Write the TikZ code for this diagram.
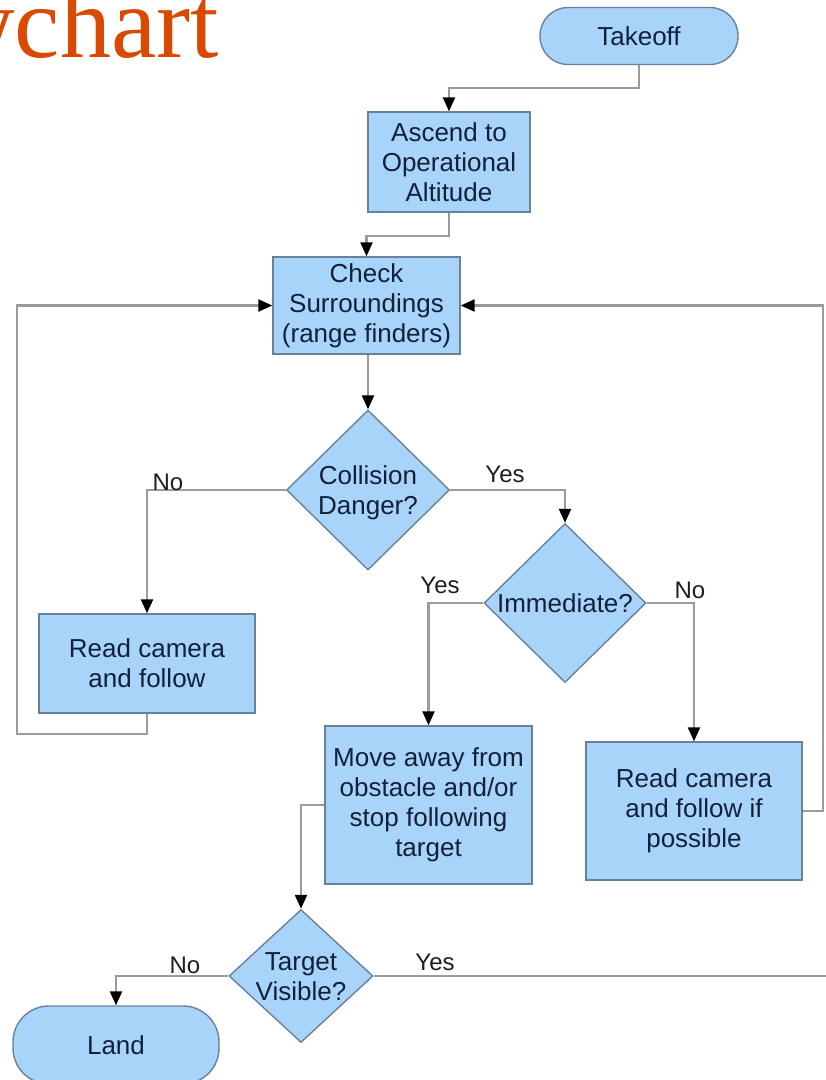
\documentclass[tikz,border=0pt]{standalone}
\usepackage{fontspec}
\setmainfont{Liberation Sans}
\newfontfamily\titlefont{Liberation Serif}
\usetikzlibrary{shapes.geometric,arrows.meta}
\definecolor{boxfill}{RGB}{168,212,250}
\definecolor{boxdraw}{RGB}{105,130,155}
\definecolor{boxtext}{RGB}{18,32,58}
\definecolor{linegray}{RGB}{155,155,155}
\definecolor{titleorange}{RGB}{217,74,0}
\definecolor{lbltext}{RGB}{30,30,30}
\newcommand{\dtext}[1]{\makebox[0pt]{\smash{\raisebox{-10pt}{\begin{tabular}{@{}c@{}}#1\end{tabular}}}}}
\begin{document}
\begin{tikzpicture}[x=1pt,y=-1pt,
 base/.style={draw=boxdraw,fill=boxfill,line width=1.4pt,text=boxtext,font=\fontsize{26}{30}\selectfont,align=center,inner sep=2pt},
 procbox/.style={base,rectangle},
 termbox/.style={base,rectangle},
 decbox/.style={base,diamond,inner sep=0pt},
 conn/.style={draw=linegray,line width=2.3pt,-{Triangle[width=12pt,length=14pt,color=black]}},
 plainconn/.style={draw=linegray,line width=2.3pt},
 lbl/.style={font=\fontsize{24}{28}\selectfont,text=lbltext,inner sep=0pt}
]
\useasboundingbox (0,0) rectangle (826,1080);
\fill[white] (0,0) rectangle (826,1080);

\node[anchor=base east,inner sep=0pt,text=titleorange,font=\titlefont\fontsize{102}{110}\selectfont] (title) at (219,57) {Flowchart};

\node[termbox,minimum width=198pt,minimum height=57pt,rounded corners=28pt] (takeoff) at (639,36) {Takeoff};
\node[procbox,minimum width=162pt,minimum height=100pt] (ascend) at (449,162) {Ascend to\\Operational\\Altitude};
\node[procbox,minimum width=187pt,minimum height=97pt] (check) at (366.5,305.5) {Check\\Surroundings\\(range finders)};
\node[decbox,minimum width=163pt,minimum height=160pt] (col) at (368,490) {\dtext{Collision\\Danger?}};
\node[decbox,minimum width=162pt,minimum height=159pt] (imm) at (565,603) {\dtext{Immediate?}};
\node[procbox,minimum width=216pt,minimum height=99pt] (rc1) at (147,663.5) {Read camera\\and follow};
\node[procbox,minimum width=207pt,minimum height=158pt] (move) at (428.5,805) {Move away from\\obstacle and/or\\stop following\\target};
\node[procbox,minimum width=216pt,minimum height=138pt] (rc2) at (694,811) {Read camera\\and follow if\\possible};
\node[decbox,minimum width=144pt,minimum height=133pt] (tgt) at (301,976) {\dtext{Target\\Visible?}};
\node[termbox,minimum width=206pt,minimum height=78pt,rounded corners=36pt] (land) at (116,1045) {Land};
\coordinate (yesend) at (830,976);

\draw[conn] (takeoff.south) -- ++(0,23) -| (ascend.north);
\draw[conn] (ascend.south) -- ++(0,23) -| (check.north);
\draw[conn] (col.north |- check.south) -- (col.north);
\draw[conn] (col.west) -| (rc1.north);
\draw[conn] (col.east) -| (imm.north);
\draw[conn] (imm.west) -| (move.north);
\draw[conn] (imm.east) -| (rc2.north);
\draw[conn] (rc1.south) -- ++(0,20) -| ([xshift=-255pt]check.west) -- (check.west);
\draw[conn] (rc2.east) -- ++(20,0) |- (check.east);
\draw[conn] (move.west) -| (tgt.north);
\draw[conn] (tgt.west) -| (land.north);
\draw[plainconn] (tgt.east) -- (yesend);

\node[lbl] (lno1) at (168,482) {No};
\node[lbl] (lyes1) at (505,474) {Yes};
\node[lbl] (lyes2) at (440,585) {Yes};
\node[lbl] (lno2) at (690,590) {No};
\node[lbl] (lno3) at (185,965) {No};
\node[lbl] (lyes3) at (435,962) {Yes};
\end{tikzpicture}
\end{document}
